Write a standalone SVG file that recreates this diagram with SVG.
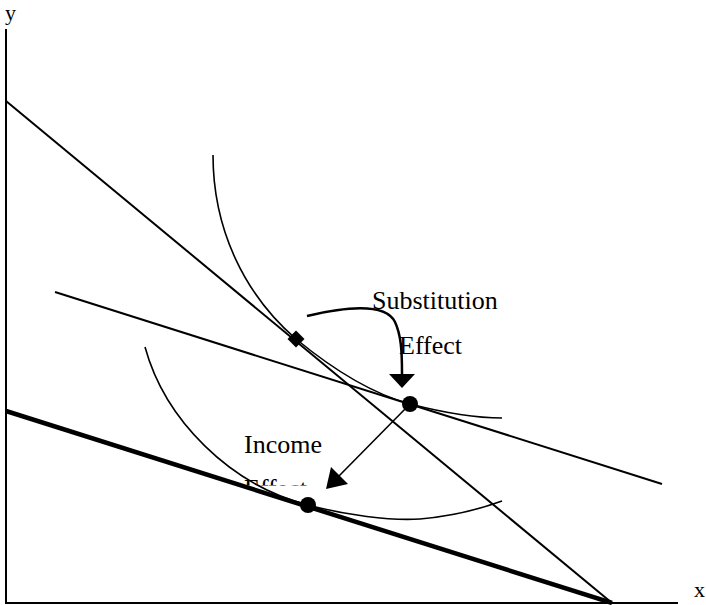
<svg xmlns="http://www.w3.org/2000/svg" width="706" height="605" viewBox="0 0 706 605">
<style>
.ln{stroke:#000;fill:none;stroke-width:2}
.cv{stroke:#000;fill:none;stroke-width:1.6}
.t{font-family:"Liberation Serif","Times New Roman",serif;font-size:26px;fill:#000}
.ax{font-family:"Liberation Serif","Times New Roman",serif;font-size:22px;fill:#000}
</style>
<defs>
<clipPath id="clipEff"><rect x="230" y="470" width="120" height="15.5"/></clipPath>
</defs>
<g id="axes">
<line class="ln" x1="6" y1="29" x2="6" y2="604"/>
<line class="ln" x1="5" y1="603" x2="678" y2="603"/>
<text class="ax" x="5" y="20">y</text>
<text class="ax" x="694" y="597">x</text>
</g>
<g id="budget-lines">
<line class="ln" x1="6" y1="101" x2="612" y2="603"/>
<line class="ln" x1="55" y1="292" x2="662" y2="484"/>
<line class="ln" x1="6" y1="411" x2="612" y2="603" style="stroke-width:4.5"/>
</g>
<g id="indifference-curves">
<path class="cv" d="M213,155 C213,230 245,295 296,339 C330,367 370,393 410,404 C445,413 475,418 502,418"/>
<path class="cv" d="M145,347 C165,420 230,485 308,505 C345,515 390,521 420,519 C455,516 480,509 502,501"/>
</g>
<g id="points">
<rect x="290" y="333" width="12" height="12" transform="rotate(45 296 339)" fill="#000"/>
<circle cx="410" cy="404" r="8" fill="#000"/>
<circle cx="308" cy="505" r="8" fill="#000"/>
</g>
<g id="connectors">
<path d="M307,316 C345,307 385,302 395,322 C401,335 402,350 402,374" fill="none" stroke="#000" stroke-width="2.5"/>
<polygon points="389,374 415,374 402,388" fill="#000"/>
<line x1="410" y1="404" x2="337" y2="478" stroke="#000" stroke-width="1.6"/>
<polygon points="326,489 331,467 348,484" fill="#000"/>
</g>
<g id="labels">
<text class="t" x="372" y="309">Substitution</text>
<text class="t" x="399" y="354">Effect</text>
<text class="t" x="244" y="453">Income</text>
<text class="t" x="244" y="497" clip-path="url(#clipEff)">Effect</text>
</g>
</svg>
